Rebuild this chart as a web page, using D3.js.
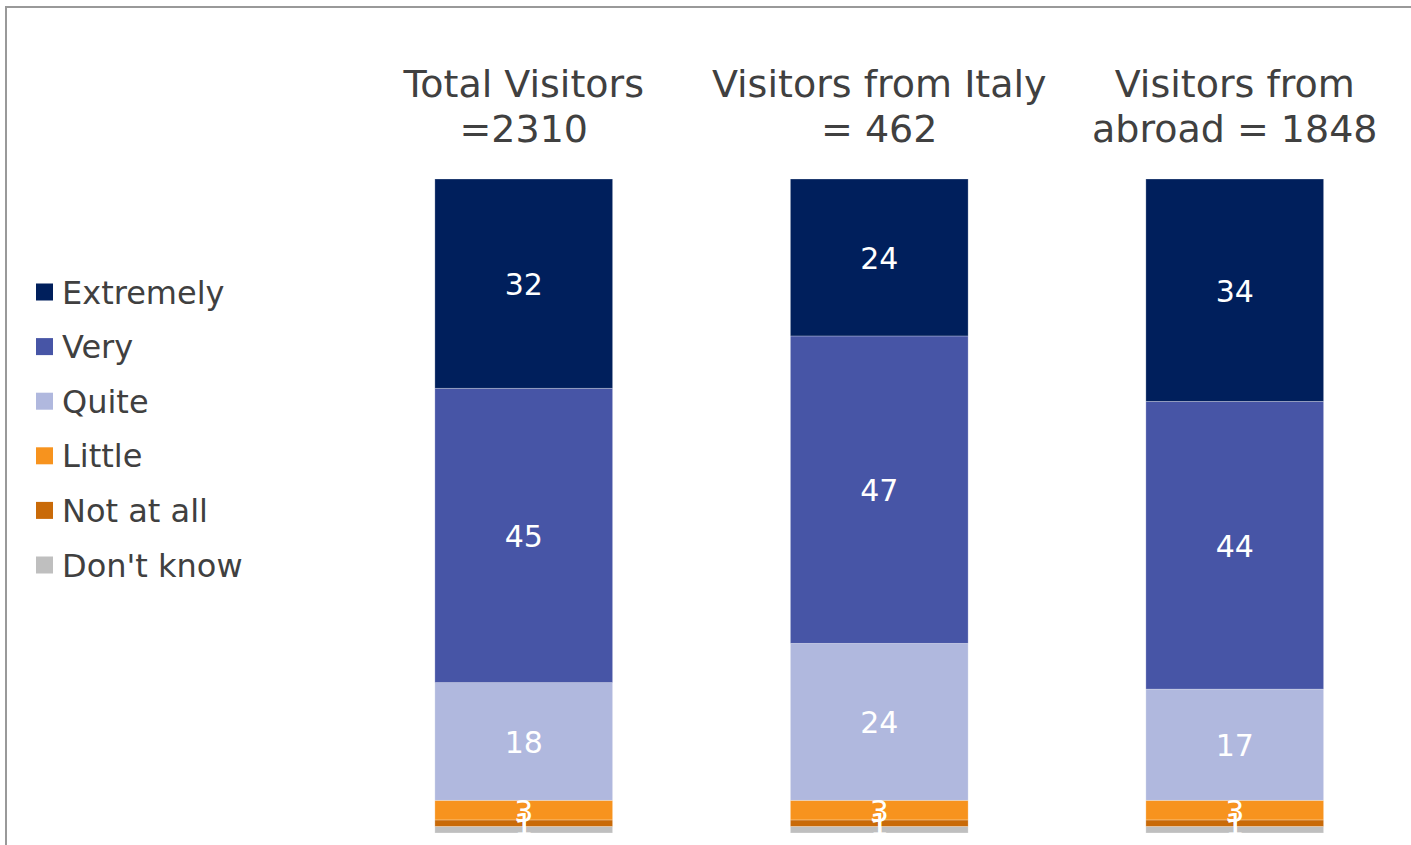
<!DOCTYPE html>
<html>
<head>
<meta charset="utf-8">
<script src="https://cdn.jsdelivr.net/npm/d3@7"></script>
<style>
  html, body { margin: 0; padding: 0; background: #fff; overflow: hidden; }
  svg { display: block; }
</style>
</head>
<body>
<svg id="chart" width="1411" height="845"></svg>
<script>
const groups = ["Total", "Italy", "Abroad"];
const groupTitles = [["Total Visitors", "=2310"], ["Visitors from Italy", "= 462"], ["Visitors from", "abroad = 1848"]];
const seriesNames = ["Extremely", "Very", "Quite", "Little", "Not at all", "Don't know"];
const seriesColors = ["#001F5C", "#4755A6", "#B0B8DE", "#F7931E", "#C96A08", "#BFBFBF"];
const extremely = [32, 24, 34];
const very = [45, 47, 44];
const quite = [18, 24, 17];
const little = [3, 3, 3];
const notAtAll = [1, 1, 1];
const dontKnow = [1, 1, 1];

const seriesValues = [extremely, very, quite, little, notAtAll, dontKnow];
const font = "'DejaVu Sans', Verdana, sans-serif";
const svg = d3.select("#chart");

// frame
svg.append("path")
  .attr("d", "M6,845 V7 H1411")
  .attr("fill", "none").attr("stroke", "#999").attr("stroke-width", 2);

const x = d3.scaleBand().domain(groups).range([346, 1412.5]).paddingInner(0.5).paddingOuter(0.25);
const y = d3.scaleLinear().domain([0, 100]).range([833, 179]);

// stack from bottom: Don't know at bottom, Extremely on top
const rows = groups.map((g, i) => {
  const r = { group: g };
  seriesNames.forEach((s, k) => r[s] = seriesValues[k][i]);
  return r;
});
const stackKeys = seriesNames.slice().reverse();
const stacked = d3.stack().keys(stackKeys)(rows);

const layers = svg.append("g").selectAll("g").data(stacked).join("g")
  .attr("fill", d => seriesColors[seriesNames.indexOf(d.key)]);

layers.selectAll("rect").data(d => d).join("rect")
  .attr("x", d => x(d.data.group))
  .attr("width", x.bandwidth())
  .attr("y", d => y(d[1]))
  .attr("height", d => y(d[0]) - y(d[1]))
  .attr("stroke", "#fff").attr("stroke-opacity", 0.35).attr("stroke-width", 0.75);

// labels
const labelG = svg.append("g");
stacked.forEach(layer => {
  layer.forEach(d => {
    labelG.append("text")
      .attr("x", x(d.data.group) + x.bandwidth() / 2)
      .attr("y", (y(d[0]) + y(d[1])) / 2)
      .attr("dy", "0.38em")
      .attr("text-anchor", "middle")
      .attr("font-family", font)
      .attr("font-size", 30)
      .attr("fill", "#fff")
      .text(d.data[layer.key]);
  });
});

// titles
groups.forEach((g, i) => {
  const t = svg.append("text")
    .attr("text-anchor", "middle")
    .attr("font-family", font)
    .attr("font-size", 38)
    .attr("fill", "#404040");
  groupTitles[i].forEach((line, j) => {
    t.append("tspan").attr("x", x(g) + x.bandwidth() / 2).attr("y", 97 + j * 45).text(line);
  });
});

// legend
const legend = svg.append("g");
seriesNames.forEach((s, i) => {
  const cy = 292 + i * 54.6;
  legend.append("rect").attr("x", 36).attr("y", cy - 8.5).attr("width", 17).attr("height", 17)
    .attr("fill", seriesColors[i]);
  legend.append("text").attr("x", 62).attr("y", cy).attr("dy", "0.36em")
    .attr("font-family", font).attr("font-size", 32).attr("fill", "#404040").text(s);
});
</script>
</body>
</html>
